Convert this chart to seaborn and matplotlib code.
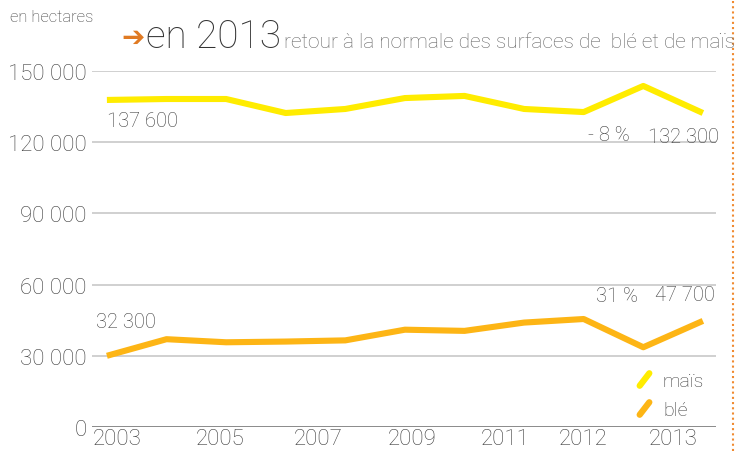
import matplotlib
matplotlib.use("Agg")
import matplotlib.pyplot as plt
from matplotlib.lines import Line2D
from matplotlib.markers import MarkerStyle
from matplotlib.path import Path
import seaborn as sns
import pandas as pd

years = [2003, 2004, 2005, 2006, 2007, 2008, 2009, 2010, 2011, 2012, 2013]
mais = [137800, 138200, 138200, 132300, 134000, 138600, 139500, 134000, 132700, 143700, 132300]
ble = [30000, 37000, 35700, 36000, 36500, 41000, 40500, 44000, 45500, 33600, 44700]
ytick_vals = [0, 30000, 60000, 90000, 120000, 150000]
ytick_labels = ["0", "30 000", "60 000", "90 000", "120 000", "150 000"]
xtick_labels = ["2003", "2005", "2007", "2009", "2011", "2012", "2013"]
xtick_pos = [0.18, 1.9, 3.54, 5.12, 6.68, 7.99, 9.5]

sns.set_theme(style="white")
FONT = ["Roboto", "DejaVu Sans"]
plt.rcParams["font.family"] = FONT
plt.rcParams["font.weight"] = "light"

df = pd.DataFrame({
    "idx": list(range(len(years))) * 2,
    "valeur": mais + ble,
    "culture": ["maïs"] * len(years) + ["blé"] * len(years),
})
palette = {"maïs": "#FFEC00", "blé": "#FDB515"}
TXT = "#3c3c3c"

fig = plt.figure(figsize=(7.37, 4.52), dpi=100)
ax = fig.add_axes([92 / 737, 1 - 428 / 452, (716 - 92) / 737, (428 - 72) / 452])

sns.lineplot(data=df, x="idx", y="valeur", hue="culture", palette=palette,
             linewidth=4.4, ax=ax, legend=False, solid_capstyle="butt")

ax.set_xlim(-0.25, 10.22)
ax.set_ylim(0, 150000)
ax.set_yticks(ytick_vals)
ax.set_yticklabels(ytick_labels)
ax.set_xticks(xtick_pos)
ax.set_xticklabels(xtick_labels)
ax.tick_params(axis="both", length=0, labelsize=16, labelcolor=TXT)
ax.tick_params(axis="y", pad=4)
ax.tick_params(axis="x", pad=1)
for v in ytick_vals[1:]:
    ax.axhline(v, color="#d0d0d0", linewidth=1.4, zorder=0)
ax.axhline(0, color="#8a8a8a", linewidth=1.4, zorder=0)
for s in ax.spines.values():
    s.set_visible(False)
ax.set_xlabel("")
ax.set_ylabel("")
ax.patch.set_alpha(0)

lab_kw = dict(textcoords="offset points", fontsize=14.5, color=TXT)
n = len(years) - 1
ax.annotate("137 600", (0, mais[0]), xytext=(0, -15), ha="left", va="center", **lab_kw)
ax.annotate("- 8 %", (n - 1, mais[n - 1]), xytext=(-25, -35), ha="center", va="center", **lab_kw)
ax.annotate("132 300", (n, mais[n]), xytext=(-14, -17), ha="center", va="center", **lab_kw)
ax.annotate("32 300", (0, ble[0]), xytext=(14, 25), ha="center", va="center", **lab_kw)
ax.annotate("31 %", (n - 1, ble[n - 1]), xytext=(-19, 37), ha="center", va="center", **lab_kw)
ax.annotate("47 700", (n, ble[n]), xytext=(-13, 19), ha="center", va="center", **lab_kw)

diag = MarkerStyle(Path([(-1, -1.3), (1, 1.3)]), capstyle="round")
handles = [Line2D([], [], linestyle="none", marker=diag, markersize=9,
                  markeredgewidth=4.5, markeredgecolor=palette[k], color=palette[k])
           for k in ["maïs", "blé"]]
leg = ax.legend(handles, ["maïs", "blé"], loc="lower right", frameon=False,
                bbox_to_anchor=(1.0, -0.01), fontsize=14, handlelength=1.2,
                handletextpad=0.4, labelspacing=0.55, borderaxespad=0.2)
for t in leg.get_texts():
    t.set_color(TXT)

fig.text(10 / 737, 1 - 18 / 452, "en hectares", fontsize=12, color=TXT, va="center")
fig.text(121 / 737, 1 - 38 / 452, "➔", fontsize=20, color="#E07A22", va="center",
         family=["DejaVu Sans"], fontweight="bold")
fig.text(146 / 737, 1 - 37 / 452, "en 2013", fontsize=28, color="#333333", va="center")
fig.text(284 / 737, 1 - 42 / 452, "retour à la normale des surfaces de  blé et de maïs",
         fontsize=15, color="#666666", va="center")

fig.add_artist(Line2D([733 / 737, 733 / 737], [0, 1], transform=fig.transFigure,
                      color="#F08A30", linewidth=1.5, linestyle=(0, (1, 1.5))))

fig.savefig("out.png", dpi=100)
